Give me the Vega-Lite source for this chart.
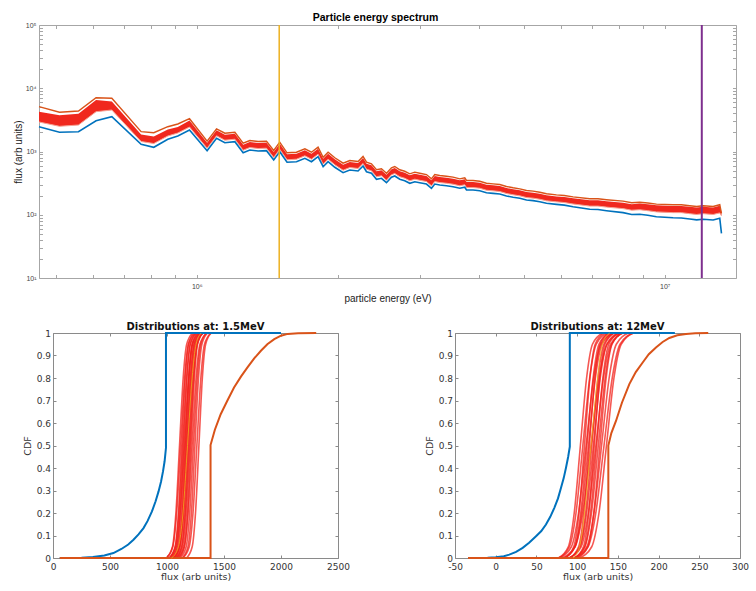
{
"$schema": "https://vega.github.io/schema/vega-lite/v6.json",
"background": "white",
"padding": {"left": 13, "top": 12, "right": 3, "bottom": 5},
"config": {"axis": {"grid": false, "domain": false}, "view": {"stroke": "#999"}},
"datasets": {
"spec": [
{"E":460000,"b":2467,"o":5109,"hi":4258,"lo":2928},
{"E":508900,"b":2012,"o":4167,"hi":3736,"lo":2503},
{"E":558600,"b":2056,"o":4369,"hi":3960,"lo":2623},
{"E":609100,"b":3069,"o":7089,"hi":6522,"lo":4260},
{"E":658300,"b":3550,"o":6937,"hi":6173,"lo":4530},
{"E":760300,"b":1300,"o":2057,"hi":1858,"lo":1439},
{"E":809200,"b":1165,"o":1983,"hi":1727,"lo":1337},
{"E":867000,"b":1559,"o":2466,"hi":2228,"lo":1759},
{"E":910800,"b":1759,"o":2723,"hi":2441,"lo":1961},
{"E":964700,"b":2187,"o":3300,"hi":3090,"lo":2439},
{"E":1052000,"b":1030,"o":1455,"hi":1378,"lo":1128},
{"E":1102000,"b":1617,"o":2285,"hi":2164,"lo":1771},
{"E":1148000,"b":1378,"o":1947,"hi":1844,"lo":1509},
{"E":1206000,"b":1428,"o":2018,"hi":1911,"lo":1564},
{"E":1256000,"b":957,"o":1352,"hi":1280,"lo":1048},
{"E":1298000,"b":1056,"o":1492,"hi":1413,"lo":1156},
{"E":1352000,"b":1018,"o":1438,"hi":1362,"lo":1115},
{"E":1409000,"b":1030,"o":1455,"hi":1378,"lo":1128},
{"E":1460000,"b":734,"o":1037,"hi":982,"lo":804},
{"E":1504000,"b":993,"o":1403,"hi":1329,"lo":1087},
{"E":1559000,"b":675,"o":954,"hi":903,"lo":739},
{"E":1633000,"b":690,"o":975,"hi":923,"lo":756},
{"E":1702000,"b":781,"o":1104,"hi":1045,"lo":855},
{"E":1758000,"b":690,"o":975,"hi":923,"lo":756},
{"E":1816000,"b":828,"o":1170,"hi":1108,"lo":907},
{"E":1862000,"b":575,"o":812,"hi":769,"lo":630},
{"E":1908000,"b":690,"o":975,"hi":923,"lo":756},
{"E":1972000,"b":563,"o":796,"hi":753,"lo":616},
{"E":2054000,"b":462,"o":653,"hi":618,"lo":506},
{"E":2123000,"b":510,"o":721,"hi":682,"lo":558},
{"E":2211000,"b":492,"o":695,"hi":658,"lo":539},
{"E":2266000,"b":590,"o":834,"hi":789,"lo":646},
{"E":2305000,"b":479,"o":677,"hi":641,"lo":525},
{"E":2362000,"b":452,"o":639,"hi":605,"lo":495},
{"E":2421000,"b":364,"o":514,"hi":487,"lo":399},
{"E":2481000,"b":377,"o":533,"hi":504,"lo":413},
{"E":2543000,"b":321,"o":454,"hi":429,"lo":351},
{"E":2606000,"b":391,"o":552,"hi":523,"lo":428},
{"E":2649000,"b":410,"o":579,"hi":549,"lo":449},
{"E":2715000,"b":364,"o":514,"hi":487,"lo":399},
{"E":2782000,"b":345,"o":487,"hi":462,"lo":378},
{"E":2852000,"b":314,"o":444,"hi":420,"lo":344},
{"E":2923000,"b":333,"o":471,"hi":446,"lo":365},
{"E":2995000,"b":321,"o":454,"hi":429,"lo":351},
{"E":3096000,"b":306,"o":432,"hi":409,"lo":335},
{"E":3173000,"b":262,"o":370,"hi":351,"lo":287},
{"E":3225000,"b":306,"o":432,"hi":409,"lo":335},
{"E":3305000,"b":295,"o":417,"hi":395,"lo":323},
{"E":3416000,"b":288,"o":407,"hi":385,"lo":315},
{"E":3529000,"b":278,"o":393,"hi":372,"lo":304},
{"E":3648000,"b":262,"o":370,"hi":351,"lo":287},
{"E":3738000,"b":272,"o":384,"hi":364,"lo":298},
{"E":3770000,"b":246,"o":348,"hi":329,"lo":269},
{"E":3894000,"b":246,"o":348,"hi":329,"lo":269},
{"E":4024000,"b":240,"o":339,"hi":321,"lo":263},
{"E":4159000,"b":223,"o":315,"hi":298,"lo":244},
{"E":4297000,"b":218,"o":308,"hi":292,"lo":239},
{"E":4441000,"b":213,"o":301,"hi":285,"lo":233},
{"E":4590000,"b":198,"o":280,"hi":265,"lo":217},
{"E":4742000,"b":189,"o":267,"hi":253,"lo":207},
{"E":4901000,"b":182,"o":257,"hi":244,"lo":199},
{"E":5065000,"b":171,"o":242,"hi":229,"lo":187},
{"E":5232000,"b":167,"o":236,"hi":223,"lo":183},
{"E":5407000,"b":161,"o":227,"hi":215,"lo":176},
{"E":5588000,"b":152,"o":215,"hi":203,"lo":166},
{"E":5870000,"b":146,"o":206,"hi":195,"lo":160},
{"E":6100000,"b":142,"o":202,"hi":191,"lo":156},
{"E":6370000,"b":134,"o":192,"hi":182,"lo":148},
{"E":6915000,"b":122,"o":179,"hi":169,"lo":137},
{"E":7200000,"b":121,"o":179,"hi":169,"lo":137},
{"E":7507000,"b":116,"o":173,"hi":164,"lo":132},
{"E":8146000,"b":108,"o":164,"hi":155,"lo":125},
{"E":8500000,"b":101,"o":155,"hi":147,"lo":118},
{"E":8843000,"b":102,"o":158,"hi":151,"lo":120},
{"E":9200000,"b":98,"o":153,"hi":146,"lo":116},
{"E":9600000,"b":93.2,"o":147,"hi":141,"lo":111},
{"E":10420000,"b":89.8,"o":144,"hi":138,"lo":108},
{"E":10850000,"b":89,"o":144,"hi":138,"lo":108},
{"E":11310000,"b":85.7,"o":139,"hi":134,"lo":104},
{"E":11700000,"b":83,"o":135,"hi":130,"lo":101},
{"E":12080000,"b":84.8,"o":139,"hi":134,"lo":104},
{"E":12690000,"b":82.6,"o":135,"hi":130,"lo":101},
{"E":13110000,"b":87.9,"o":144,"hi":139,"lo":107},
{"E":13220000,"b":50.9,"o":105,"hi":112,"lo":96}
],
"aRed": [
{"c":1,"x":996,"y":0},{"c":1,"x":1048,"y":0.05},{"c":1,"x":1078,"y":0.2},{"c":1,"x":1110,"y":0.5},{"c":1,"x":1142,"y":0.8},{"c":1,"x":1173,"y":0.95},{"c":1,"x":1224,"y":1},
{"c":2,"x":994,"y":0},{"c":2,"x":1051,"y":0.05},{"c":2,"x":1085,"y":0.2},{"c":2,"x":1120,"y":0.5},{"c":2,"x":1155,"y":0.8},{"c":2,"x":1189,"y":0.95},{"c":2,"x":1246,"y":1},
{"c":3,"x":1025,"y":0},{"c":3,"x":1072,"y":0.05},{"c":3,"x":1101,"y":0.2},{"c":3,"x":1130,"y":0.5},{"c":3,"x":1160,"y":0.8},{"c":3,"x":1188,"y":0.95},{"c":3,"x":1235,"y":1},
{"c":4,"x":1018,"y":0},{"c":4,"x":1072,"y":0.05},{"c":4,"x":1104,"y":0.2},{"c":4,"x":1138,"y":0.5},{"c":4,"x":1172,"y":0.8},{"c":4,"x":1204,"y":0.95},{"c":4,"x":1258,"y":1},
{"c":5,"x":1037,"y":0},{"c":5,"x":1086,"y":0.05},{"c":5,"x":1115,"y":0.2},{"c":5,"x":1145,"y":0.5},{"c":5,"x":1175,"y":0.8},{"c":5,"x":1204,"y":0.95},{"c":5,"x":1253,"y":1},
{"c":6,"x":1020,"y":0},{"c":6,"x":1080,"y":0.05},{"c":6,"x":1115,"y":0.2},{"c":6,"x":1152,"y":0.5},{"c":6,"x":1189,"y":0.8},{"c":6,"x":1224,"y":0.95},{"c":6,"x":1284,"y":1},
{"c":7,"x":1041,"y":0},{"c":7,"x":1094,"y":0.05},{"c":7,"x":1125,"y":0.2},{"c":7,"x":1158,"y":0.5},{"c":7,"x":1191,"y":0.8},{"c":7,"x":1222,"y":0.95},{"c":7,"x":1275,"y":1},
{"c":8,"x":1062,"y":0},{"c":8,"x":1108,"y":0.05},{"c":8,"x":1135,"y":0.2},{"c":8,"x":1164,"y":0.5},{"c":8,"x":1193,"y":0.8},{"c":8,"x":1220,"y":0.95},{"c":8,"x":1266,"y":1},
{"c":9,"x":1047,"y":0},{"c":9,"x":1103,"y":0.05},{"c":9,"x":1136,"y":0.2},{"c":9,"x":1170,"y":0.5},{"c":9,"x":1205,"y":0.8},{"c":9,"x":1237,"y":0.95},{"c":9,"x":1293,"y":1},
{"c":10,"x":1065,"y":0},{"c":10,"x":1115,"y":0.05},{"c":10,"x":1145,"y":0.2},{"c":10,"x":1176,"y":0.5},{"c":10,"x":1207,"y":0.8},{"c":10,"x":1237,"y":0.95},{"c":10,"x":1287,"y":1},
{"c":11,"x":1053,"y":0},{"c":11,"x":1111,"y":0.05},{"c":11,"x":1146,"y":0.2},{"c":11,"x":1182,"y":0.5},{"c":11,"x":1218,"y":0.8},{"c":11,"x":1253,"y":0.95},{"c":11,"x":1311,"y":1},
{"c":12,"x":1080,"y":0},{"c":12,"x":1129,"y":0.05},{"c":12,"x":1158,"y":0.2},{"c":12,"x":1188,"y":0.5},{"c":12,"x":1218,"y":0.8},{"c":12,"x":1247,"y":0.95},{"c":12,"x":1296,"y":1},
{"c":13,"x":1075,"y":0},{"c":13,"x":1129,"y":0.05},{"c":13,"x":1161,"y":0.2},{"c":13,"x":1195,"y":0.5},{"c":13,"x":1229,"y":0.8},{"c":13,"x":1261,"y":0.95},{"c":13,"x":1315,"y":1},
{"c":14,"x":1088,"y":0},{"c":14,"x":1140,"y":0.05},{"c":14,"x":1170,"y":0.2},{"c":14,"x":1202,"y":0.5},{"c":14,"x":1234,"y":0.8},{"c":14,"x":1265,"y":0.95},{"c":14,"x":1316,"y":1},
{"c":15,"x":1105,"y":0},{"c":15,"x":1152,"y":0.05},{"c":15,"x":1181,"y":0.2},{"c":15,"x":1210,"y":0.5},{"c":15,"x":1240,"y":0.8},{"c":15,"x":1268,"y":0.95},{"c":15,"x":1315,"y":1},
{"c":16,"x":1094,"y":0},{"c":16,"x":1151,"y":0.05},{"c":16,"x":1185,"y":0.2},{"c":16,"x":1220,"y":0.5},{"c":16,"x":1255,"y":0.8},{"c":16,"x":1289,"y":0.95},{"c":16,"x":1346,"y":1},
{"c":17,"x":1115,"y":0},{"c":17,"x":1168,"y":0.05},{"c":17,"x":1199,"y":0.2},{"c":17,"x":1232,"y":0.5},{"c":17,"x":1265,"y":0.8},{"c":17,"x":1296,"y":0.95},{"c":17,"x":1349,"y":1},
{"c":18,"x":1134,"y":0},{"c":18,"x":1184,"y":0.05},{"c":18,"x":1214,"y":0.2},{"c":18,"x":1245,"y":0.5},{"c":18,"x":1276,"y":0.8},{"c":18,"x":1306,"y":0.95},{"c":18,"x":1356,"y":1},
{"c":19,"x":1139,"y":0},{"c":19,"x":1195,"y":0.05},{"c":19,"x":1228,"y":0.2},{"c":19,"x":1262,"y":0.5},{"c":19,"x":1297,"y":0.8},{"c":19,"x":1329,"y":0.95},{"c":19,"x":1385,"y":1},
{"c":20,"x":1172,"y":0},{"c":20,"x":1221,"y":0.05},{"c":20,"x":1250,"y":0.2},{"c":20,"x":1280,"y":0.5},{"c":20,"x":1310,"y":0.8},{"c":20,"x":1339,"y":0.95},{"c":20,"x":1388,"y":1}
],
"aLines": [
{"s":"blue","i":1,"x":59,"y":0},{"s":"blue","i":2,"x":250,"y":0.001},{"s":"blue","i":3,"x":350,"y":0.004},{"s":"blue","i":4,"x":450,"y":0.011},{"s":"blue","i":5,"x":530,"y":0.022},{"s":"blue","i":6,"x":600,"y":0.04},{"s":"blue","i":7,"x":660,"y":0.06},{"s":"blue","i":8,"x":706,"y":0.081},{"s":"blue","i":9,"x":750,"y":0.105},{"s":"blue","i":10,"x":794,"y":0.133},{"s":"blue","i":11,"x":830,"y":0.165},{"s":"blue","i":12,"x":868,"y":0.207},{"s":"blue","i":13,"x":900,"y":0.252},{"s":"blue","i":14,"x":926,"y":0.296},{"s":"blue","i":15,"x":948,"y":0.34},{"s":"blue","i":16,"x":965,"y":0.385},{"s":"blue","i":17,"x":979,"y":0.43},{"s":"blue","i":18,"x":991,"y":0.49},{"s":"blue","i":19,"x":991,"y":1},{"s":"blue","i":20,"x":2000,"y":1},
{"s":"orange","i":1,"x":59,"y":0},{"s":"orange","i":2,"x":1382,"y":0},{"s":"orange","i":3,"x":1382,"y":0.502},{"s":"orange","i":4,"x":1420,"y":0.57},{"s":"orange","i":5,"x":1471,"y":0.639},{"s":"orange","i":6,"x":1530,"y":0.7},{"s":"orange","i":7,"x":1588,"y":0.758},{"s":"orange","i":8,"x":1650,"y":0.807},{"s":"orange","i":9,"x":1706,"y":0.847},{"s":"orange","i":10,"x":1765,"y":0.887},{"s":"orange","i":11,"x":1824,"y":0.921},{"s":"orange","i":12,"x":1880,"y":0.95},{"s":"orange","i":13,"x":1941,"y":0.973},{"s":"orange","i":14,"x":2000,"y":0.988},{"s":"orange","i":15,"x":2059,"y":0.996},{"s":"orange","i":16,"x":2150,"y":0.999},{"s":"orange","i":17,"x":2309,"y":1},
{"s":"yellow","i":1,"x":1040,"y":0},{"s":"yellow","i":2,"x":1100,"y":0.05},{"s":"yellow","i":3,"x":1140,"y":0.2},{"s":"yellow","i":4,"x":1180,"y":0.5},{"s":"yellow","i":5,"x":1220,"y":0.8},{"s":"yellow","i":6,"x":1255,"y":0.95},{"s":"yellow","i":7,"x":1300,"y":1}
],
"bRed": [
{"c":1,"x":77,"y":0},{"c":1,"x":89.2,"y":0.05},{"c":1,"x":96.4,"y":0.2},{"c":1,"x":104,"y":0.5},{"c":1,"x":111.6,"y":0.8},{"c":1,"x":118.8,"y":0.95},{"c":1,"x":131,"y":1},
{"c":2,"x":77,"y":0},{"c":2,"x":90.5,"y":0.05},{"c":2,"x":98.6,"y":0.2},{"c":2,"x":107,"y":0.5},{"c":2,"x":115.4,"y":0.8},{"c":2,"x":123.5,"y":0.95},{"c":2,"x":137,"y":1},
{"c":3,"x":85,"y":0},{"c":3,"x":95.8,"y":0.05},{"c":3,"x":102.3,"y":0.2},{"c":3,"x":109,"y":0.5},{"c":3,"x":115.7,"y":0.8},{"c":3,"x":122.2,"y":0.95},{"c":3,"x":133,"y":1},
{"c":4,"x":78,"y":0},{"c":4,"x":92.9,"y":0.05},{"c":4,"x":101.7,"y":0.2},{"c":4,"x":111,"y":0.5},{"c":4,"x":120.3,"y":0.8},{"c":4,"x":129.1,"y":0.95},{"c":4,"x":144,"y":1},
{"c":5,"x":85,"y":0},{"c":5,"x":97.2,"y":0.05},{"c":5,"x":104.4,"y":0.2},{"c":5,"x":112,"y":0.5},{"c":5,"x":119.6,"y":0.8},{"c":5,"x":126.8,"y":0.95},{"c":5,"x":139,"y":1},
{"c":6,"x":84,"y":0},{"c":6,"x":97.5,"y":0.05},{"c":6,"x":105.6,"y":0.2},{"c":6,"x":114,"y":0.5},{"c":6,"x":122.4,"y":0.8},{"c":6,"x":130.5,"y":0.95},{"c":6,"x":144,"y":1},
{"c":7,"x":91,"y":0},{"c":7,"x":101.8,"y":0.05},{"c":7,"x":108.3,"y":0.2},{"c":7,"x":115,"y":0.5},{"c":7,"x":121.7,"y":0.8},{"c":7,"x":128.2,"y":0.95},{"c":7,"x":139,"y":1},
{"c":8,"x":81,"y":0},{"c":8,"x":97.3,"y":0.05},{"c":8,"x":106.9,"y":0.2},{"c":8,"x":117,"y":0.5},{"c":8,"x":127.1,"y":0.8},{"c":8,"x":136.7,"y":0.95},{"c":8,"x":153,"y":1},
{"c":9,"x":91,"y":0},{"c":9,"x":103.2,"y":0.05},{"c":9,"x":110.4,"y":0.2},{"c":9,"x":118,"y":0.5},{"c":9,"x":125.6,"y":0.8},{"c":9,"x":132.8,"y":0.95},{"c":9,"x":145,"y":1},
{"c":10,"x":90,"y":0},{"c":10,"x":103.5,"y":0.05},{"c":10,"x":111.6,"y":0.2},{"c":10,"x":120,"y":0.5},{"c":10,"x":128.4,"y":0.8},{"c":10,"x":136.5,"y":0.95},{"c":10,"x":150,"y":1},
{"c":11,"x":97,"y":0},{"c":11,"x":107.8,"y":0.05},{"c":11,"x":114.3,"y":0.2},{"c":11,"x":121,"y":0.5},{"c":11,"x":127.7,"y":0.8},{"c":11,"x":134.2,"y":0.95},{"c":11,"x":145,"y":1},
{"c":12,"x":90,"y":0},{"c":12,"x":104.9,"y":0.05},{"c":12,"x":113.7,"y":0.2},{"c":12,"x":123,"y":0.5},{"c":12,"x":132.3,"y":0.8},{"c":12,"x":141.1,"y":0.95},{"c":12,"x":156,"y":1},
{"c":13,"x":97,"y":0},{"c":13,"x":109.2,"y":0.05},{"c":13,"x":116.4,"y":0.2},{"c":13,"x":124,"y":0.5},{"c":13,"x":131.6,"y":0.8},{"c":13,"x":138.8,"y":0.95},{"c":13,"x":151,"y":1},
{"c":14,"x":96,"y":0},{"c":14,"x":109.5,"y":0.05},{"c":14,"x":117.6,"y":0.2},{"c":14,"x":126,"y":0.5},{"c":14,"x":134.4,"y":0.8},{"c":14,"x":142.5,"y":0.95},{"c":14,"x":156,"y":1},
{"c":15,"x":101,"y":0},{"c":15,"x":113.2,"y":0.05},{"c":15,"x":120.4,"y":0.2},{"c":15,"x":128,"y":0.5},{"c":15,"x":135.6,"y":0.8},{"c":15,"x":142.8,"y":0.95},{"c":15,"x":155,"y":1},
{"c":16,"x":97,"y":0},{"c":16,"x":111.9,"y":0.05},{"c":16,"x":120.7,"y":0.2},{"c":16,"x":130,"y":0.5},{"c":16,"x":139.3,"y":0.8},{"c":16,"x":148.1,"y":0.95},{"c":16,"x":163,"y":1},
{"c":17,"x":97,"y":0},{"c":17,"x":113.3,"y":0.05},{"c":17,"x":122.9,"y":0.2},{"c":17,"x":133,"y":0.5},{"c":17,"x":143.1,"y":0.8},{"c":17,"x":152.7,"y":0.95},{"c":17,"x":169,"y":1},
{"c":18,"x":103,"y":0},{"c":18,"x":117.9,"y":0.05},{"c":18,"x":126.8,"y":0.2},{"c":18,"x":136,"y":0.5},{"c":18,"x":145.2,"y":0.8},{"c":18,"x":154.1,"y":0.95},{"c":18,"x":169,"y":1}
],
"bLines": [
{"s":"blue","i":1,"x":-34,"y":0},{"s":"blue","i":2,"x":-10,"y":0.001},{"s":"blue","i":3,"x":0,"y":0.003},{"s":"blue","i":4,"x":10,"y":0.008},{"s":"blue","i":5,"x":16.7,"y":0.015},{"s":"blue","i":6,"x":25,"y":0.027},{"s":"blue","i":7,"x":33.1,"y":0.045},{"s":"blue","i":8,"x":41,"y":0.068},{"s":"blue","i":9,"x":49.5,"y":0.097},{"s":"blue","i":10,"x":56,"y":0.12},{"s":"blue","i":11,"x":61.7,"y":0.149},{"s":"blue","i":12,"x":67,"y":0.183},{"s":"blue","i":13,"x":72,"y":0.223},{"s":"blue","i":14,"x":76.5,"y":0.265},{"s":"blue","i":15,"x":80.2,"y":0.312},{"s":"blue","i":16,"x":83.5,"y":0.355},{"s":"blue","i":17,"x":86.3,"y":0.401},{"s":"blue","i":18,"x":89,"y":0.45},{"s":"blue","i":19,"x":91,"y":0.495},{"s":"blue","i":20,"x":91,"y":1},{"s":"blue","i":21,"x":220,"y":1},
{"s":"orange","i":1,"x":-34,"y":0},{"s":"orange","i":2,"x":138.3,"y":0},{"s":"orange","i":3,"x":138.3,"y":0.5},{"s":"orange","i":4,"x":142,"y":0.555},{"s":"orange","i":5,"x":147.7,"y":0.609},{"s":"orange","i":6,"x":155,"y":0.69},{"s":"orange","i":7,"x":164.1,"y":0.773},{"s":"orange","i":8,"x":172,"y":0.826},{"s":"orange","i":9,"x":180.5,"y":0.869},{"s":"orange","i":10,"x":188,"y":0.906},{"s":"orange","i":11,"x":196.8,"y":0.936},{"s":"orange","i":12,"x":205,"y":0.96},{"s":"orange","i":13,"x":213.2,"y":0.978},{"s":"orange","i":14,"x":223,"y":0.99},{"s":"orange","i":15,"x":233.7,"y":0.996},{"s":"orange","i":16,"x":245,"y":0.999},{"s":"orange","i":17,"x":261,"y":1},
{"s":"yellow","i":1,"x":95,"y":0},{"s":"yellow","i":2,"x":103,"y":0.05},{"s":"yellow","i":3,"x":109,"y":0.2},{"s":"yellow","i":4,"x":117,"y":0.5},{"s":"yellow","i":5,"x":125,"y":0.8},{"s":"yellow","i":6,"x":131,"y":0.95},{"s":"yellow","i":7,"x":140,"y":1}
]
},
"spacing": 17,
"vconcat": [
{
"width": 683, "height": 253,
"view": {"stroke": null},
"title": {"text": "Particle energy spectrum", "font": "Liberation Sans", "fontSize": 10.5, "fontWeight": "bold", "color": "#000", "offset": -2, "dx": -19},
"layer": [
{"data": {"name": "spec"}, "mark": {"type": "area", "color": "#f0281e", "opacity": 1},
 "encoding": {
  "x": {"field": "E", "type": "quantitative", "scale": {"type": "log", "domain": [460000, 14200000], "range": [-14, 683], "nice": false},
   "axis": {"orient": "bottom", "values": [500000,600000,700000,800000,900000,1000000,2000000,3000000,4000000,5000000,6000000,7000000,8000000,9000000,10000000],
    "labelExpr": "datum.value == 1000000 ? '10⁶' : (datum.value == 10000000 ? '10⁷' : '')",
    "domain": true, "domainColor": "#a6a6a6", "domainWidth": 1,
    "labelOverlap": false, "labelFlush": false, "tickSize": -3.5, "tickColor": "#a6a6a6", "labelFont": "Liberation Sans", "labelFontSize": 7, "labelColor": "#444", "labelPadding": 8,
    "title": "particle energy (eV)", "titleFont": "Liberation Sans", "titleFontSize": 10, "titleFontWeight": "normal", "titleColor": "#222", "titlePadding": 4}},
  "y": {"field": "hi", "type": "quantitative", "scale": {"type": "log", "domain": [10, 100000], "nice": false},
   "axis": {"orient": "left", "offset": 14, "values": [10,20,30,40,50,60,70,80,90,100,200,300,400,500,600,700,800,900,1000,2000,3000,4000,5000,6000,7000,8000,9000,10000,20000,30000,40000,50000,60000,70000,80000,90000,100000],
    "labelExpr": "datum.value == 10 ? '10¹' : datum.value == 100 ? '10²' : datum.value == 1000 ? '10³' : datum.value == 10000 ? '10⁴' : datum.value == 100000 ? '10⁵' : ''",
    "domain": true, "domainColor": "#a6a6a6", "domainWidth": 1,
    "labelOverlap": false, "labelFlush": false, "tickSize": -3.5, "tickColor": "#a6a6a6", "labelFont": "Liberation Sans", "labelFontSize": 7, "labelColor": "#444", "labelPadding": 6.5,
    "title": "flux (arb units)", "titleFont": "Liberation Sans", "titleFontSize": 10, "titleFontWeight": "normal", "titleColor": "#222", "titlePadding": 2}},
  "y2": {"field": "lo"}}},
{"data": {"name": "spec"}, "mark": {"type": "line", "color": "#f6a293", "strokeWidth": 1},
 "encoding": {
  "x": {"field": "E", "type": "quantitative", "axis": {"orient": "top", "values": [500000,600000,700000,800000,900000,1000000,2000000,3000000,4000000,5000000,6000000,7000000,8000000,9000000,10000000], "labels": false, "domain": true, "domainColor": "#a6a6a6", "domainWidth": 1, "tickSize": -3.5, "tickColor": "#a6a6a6", "title": null}},
  "y": {"field": "lo", "type": "quantitative", "axis": {"orient": "right", "values": [10,20,30,40,50,60,70,80,90,100,200,300,400,500,600,700,800,900,1000,2000,3000,4000,5000,6000,7000,8000,9000,10000,20000,30000,40000,50000,60000,70000,80000,90000,100000], "labels": false, "domain": true, "domainColor": "#a6a6a6", "domainWidth": 1, "tickSize": -3.5, "tickColor": "#a6a6a6", "title": null}}}},
{"data": {"name": "spec"}, "mark": {"type": "line", "color": "#0072BD", "strokeWidth": 1.6},
 "encoding": {"x": {"field": "E", "type": "quantitative", "axis": null}, "y": {"field": "b", "type": "quantitative", "axis": null}}},
{"data": {"name": "spec"}, "mark": {"type": "line", "color": "#D95319", "strokeWidth": 1.4},
 "encoding": {"x": {"field": "E", "type": "quantitative", "axis": null}, "y": {"field": "o", "type": "quantitative", "axis": null}}},
{"data": {"values": [{"E": 1500000}]}, "mark": {"type": "rule", "color": "#EDB120", "strokeWidth": 1.5},
 "encoding": {"x": {"field": "E", "type": "quantitative", "axis": null}}},
{"data": {"values": [{"E": 12000000}]}, "mark": {"type": "rule", "color": "#7E2F8E", "strokeWidth": 2},
 "encoding": {"x": {"field": "E", "type": "quantitative", "axis": null}}}
]
},
{
"spacing": 73,
"hconcat": [
{
"width": 285, "height": 225,
"view": {"stroke": "#8a8a8a"},
"title": {"text": "Distributions at: 1.5MeV", "font": "DejaVu Sans", "fontSize": 10, "fontWeight": "bold", "color": "#111", "offset": -3},
"layer": [
{"data": {"name": "aRed"}, "mark": {"type": "line", "color": "#f2201a", "opacity": 0.75, "strokeWidth": 1.6, "interpolate": "monotone"},
 "encoding": {
  "x": {"field": "x", "type": "quantitative", "scale": {"domain": [0, 2500], "nice": false, "zero": false},
   "axis": {"orient": "bottom", "values": [0,500,1000,1500,2000,2500], "labelExpr": "'' + datum.value", "tickSize": -3, "tickColor": "#8a8a8a", "labelFont": "DejaVu Sans", "labelFontSize": 9, "labelColor": "#333", "labelPadding": 7.5, "labelFlush": false, "labelOverlap": false,
    "title": "flux (arb units)", "titleFont": "DejaVu Sans", "titleFontSize": 9.5, "titleFontWeight": "normal", "titleColor": "#333", "titlePadding": 0}},
  "y": {"field": "y", "type": "quantitative", "scale": {"domain": [0, 1], "nice": false},
   "axis": {"orient": "left", "values": [0,0.1,0.2,0.3,0.4,0.5,0.6,0.7,0.8,0.9,1], "labelExpr": "'' + datum.value", "tickSize": -3, "tickColor": "#8a8a8a", "labelFont": "DejaVu Sans", "labelFontSize": 9, "labelColor": "#333", "labelPadding": 5.5, "labelFlush": false, "labelOverlap": false,
    "title": "CDF", "titleFont": "DejaVu Sans", "titleFontSize": 9.5, "titleFontWeight": "normal", "titleColor": "#333", "titlePadding": 4}},
  "detail": {"field": "c"}}},
{"data": {"name": "aLines"}, "transform": [{"filter": "datum.s == 'blue'"}], "mark": {"type": "line", "color": "#0072BD", "strokeWidth": 2},
 "encoding": {
  "x": {"field": "x", "type": "quantitative", "axis": {"orient": "top", "values": [0,500,1000,1500,2000,2500], "labels": false, "tickSize": -3, "tickColor": "#8a8a8a", "title": null}},
  "y": {"field": "y", "type": "quantitative", "axis": {"orient": "right", "values": [0,0.1,0.2,0.3,0.4,0.5,0.6,0.7,0.8,0.9,1], "labels": false, "tickSize": -3, "tickColor": "#8a8a8a", "title": null}},
  "order": {"field": "i"}}},
{"data": {"name": "aLines"}, "transform": [{"filter": "datum.s == 'orange'"}], "mark": {"type": "line", "color": "#D95319", "strokeWidth": 2},
 "encoding": {"x": {"field": "x", "type": "quantitative", "axis": null}, "y": {"field": "y", "type": "quantitative", "axis": null}, "order": {"field": "i"}}},
{"data": {"name": "aLines"}, "transform": [{"filter": "datum.s == 'yellow'"}], "mark": {"type": "line", "color": "#EDB120", "strokeWidth": 0.8, "interpolate": "monotone"},
 "encoding": {"x": {"field": "x", "type": "quantitative", "axis": null}, "y": {"field": "y", "type": "quantitative", "axis": null}, "order": {"field": "i"}}}
]
},
{
"width": 285, "height": 225,
"view": {"stroke": "#8a8a8a"},
"title": {"text": "Distributions at: 12MeV", "font": "DejaVu Sans", "fontSize": 10, "fontWeight": "bold", "color": "#111", "offset": -3},
"layer": [
{"data": {"name": "bRed"}, "mark": {"type": "line", "color": "#f2201a", "opacity": 0.75, "strokeWidth": 1.6, "interpolate": "monotone"},
 "encoding": {
  "x": {"field": "x", "type": "quantitative", "scale": {"domain": [-50, 300], "nice": false, "zero": false},
   "axis": {"orient": "bottom", "values": [-50,0,50,100,150,200,250,300], "labelExpr": "'' + datum.value", "tickSize": -3, "tickColor": "#8a8a8a", "labelFont": "DejaVu Sans", "labelFontSize": 9, "labelColor": "#333", "labelPadding": 7.5, "labelFlush": false, "labelOverlap": false,
    "title": "flux (arb units)", "titleFont": "DejaVu Sans", "titleFontSize": 9.5, "titleFontWeight": "normal", "titleColor": "#333", "titlePadding": 0}},
  "y": {"field": "y", "type": "quantitative", "scale": {"domain": [0, 1], "nice": false},
   "axis": {"orient": "left", "values": [0,0.1,0.2,0.3,0.4,0.5,0.6,0.7,0.8,0.9,1], "labelExpr": "'' + datum.value", "tickSize": -3, "tickColor": "#8a8a8a", "labelFont": "DejaVu Sans", "labelFontSize": 9, "labelColor": "#333", "labelPadding": 5.5, "labelFlush": false, "labelOverlap": false,
    "title": "CDF", "titleFont": "DejaVu Sans", "titleFontSize": 9.5, "titleFontWeight": "normal", "titleColor": "#333", "titlePadding": 4}},
  "detail": {"field": "c"}}},
{"data": {"name": "bLines"}, "transform": [{"filter": "datum.s == 'blue'"}], "mark": {"type": "line", "color": "#0072BD", "strokeWidth": 2},
 "encoding": {
  "x": {"field": "x", "type": "quantitative", "axis": {"orient": "top", "values": [-50,0,50,100,150,200,250,300], "labels": false, "tickSize": -3, "tickColor": "#8a8a8a", "title": null}},
  "y": {"field": "y", "type": "quantitative", "axis": {"orient": "right", "values": [0,0.1,0.2,0.3,0.4,0.5,0.6,0.7,0.8,0.9,1], "labels": false, "tickSize": -3, "tickColor": "#8a8a8a", "title": null}},
  "order": {"field": "i"}}},
{"data": {"name": "bLines"}, "transform": [{"filter": "datum.s == 'orange'"}], "mark": {"type": "line", "color": "#D95319", "strokeWidth": 2},
 "encoding": {"x": {"field": "x", "type": "quantitative", "axis": null}, "y": {"field": "y", "type": "quantitative", "axis": null}, "order": {"field": "i"}}},
{"data": {"name": "bLines"}, "transform": [{"filter": "datum.s == 'yellow'"}], "mark": {"type": "line", "color": "#EDB120", "strokeWidth": 0.8, "interpolate": "monotone"},
 "encoding": {"x": {"field": "x", "type": "quantitative", "axis": null}, "y": {"field": "y", "type": "quantitative", "axis": null}, "order": {"field": "i"}}}
]
}
]
}
]
}
